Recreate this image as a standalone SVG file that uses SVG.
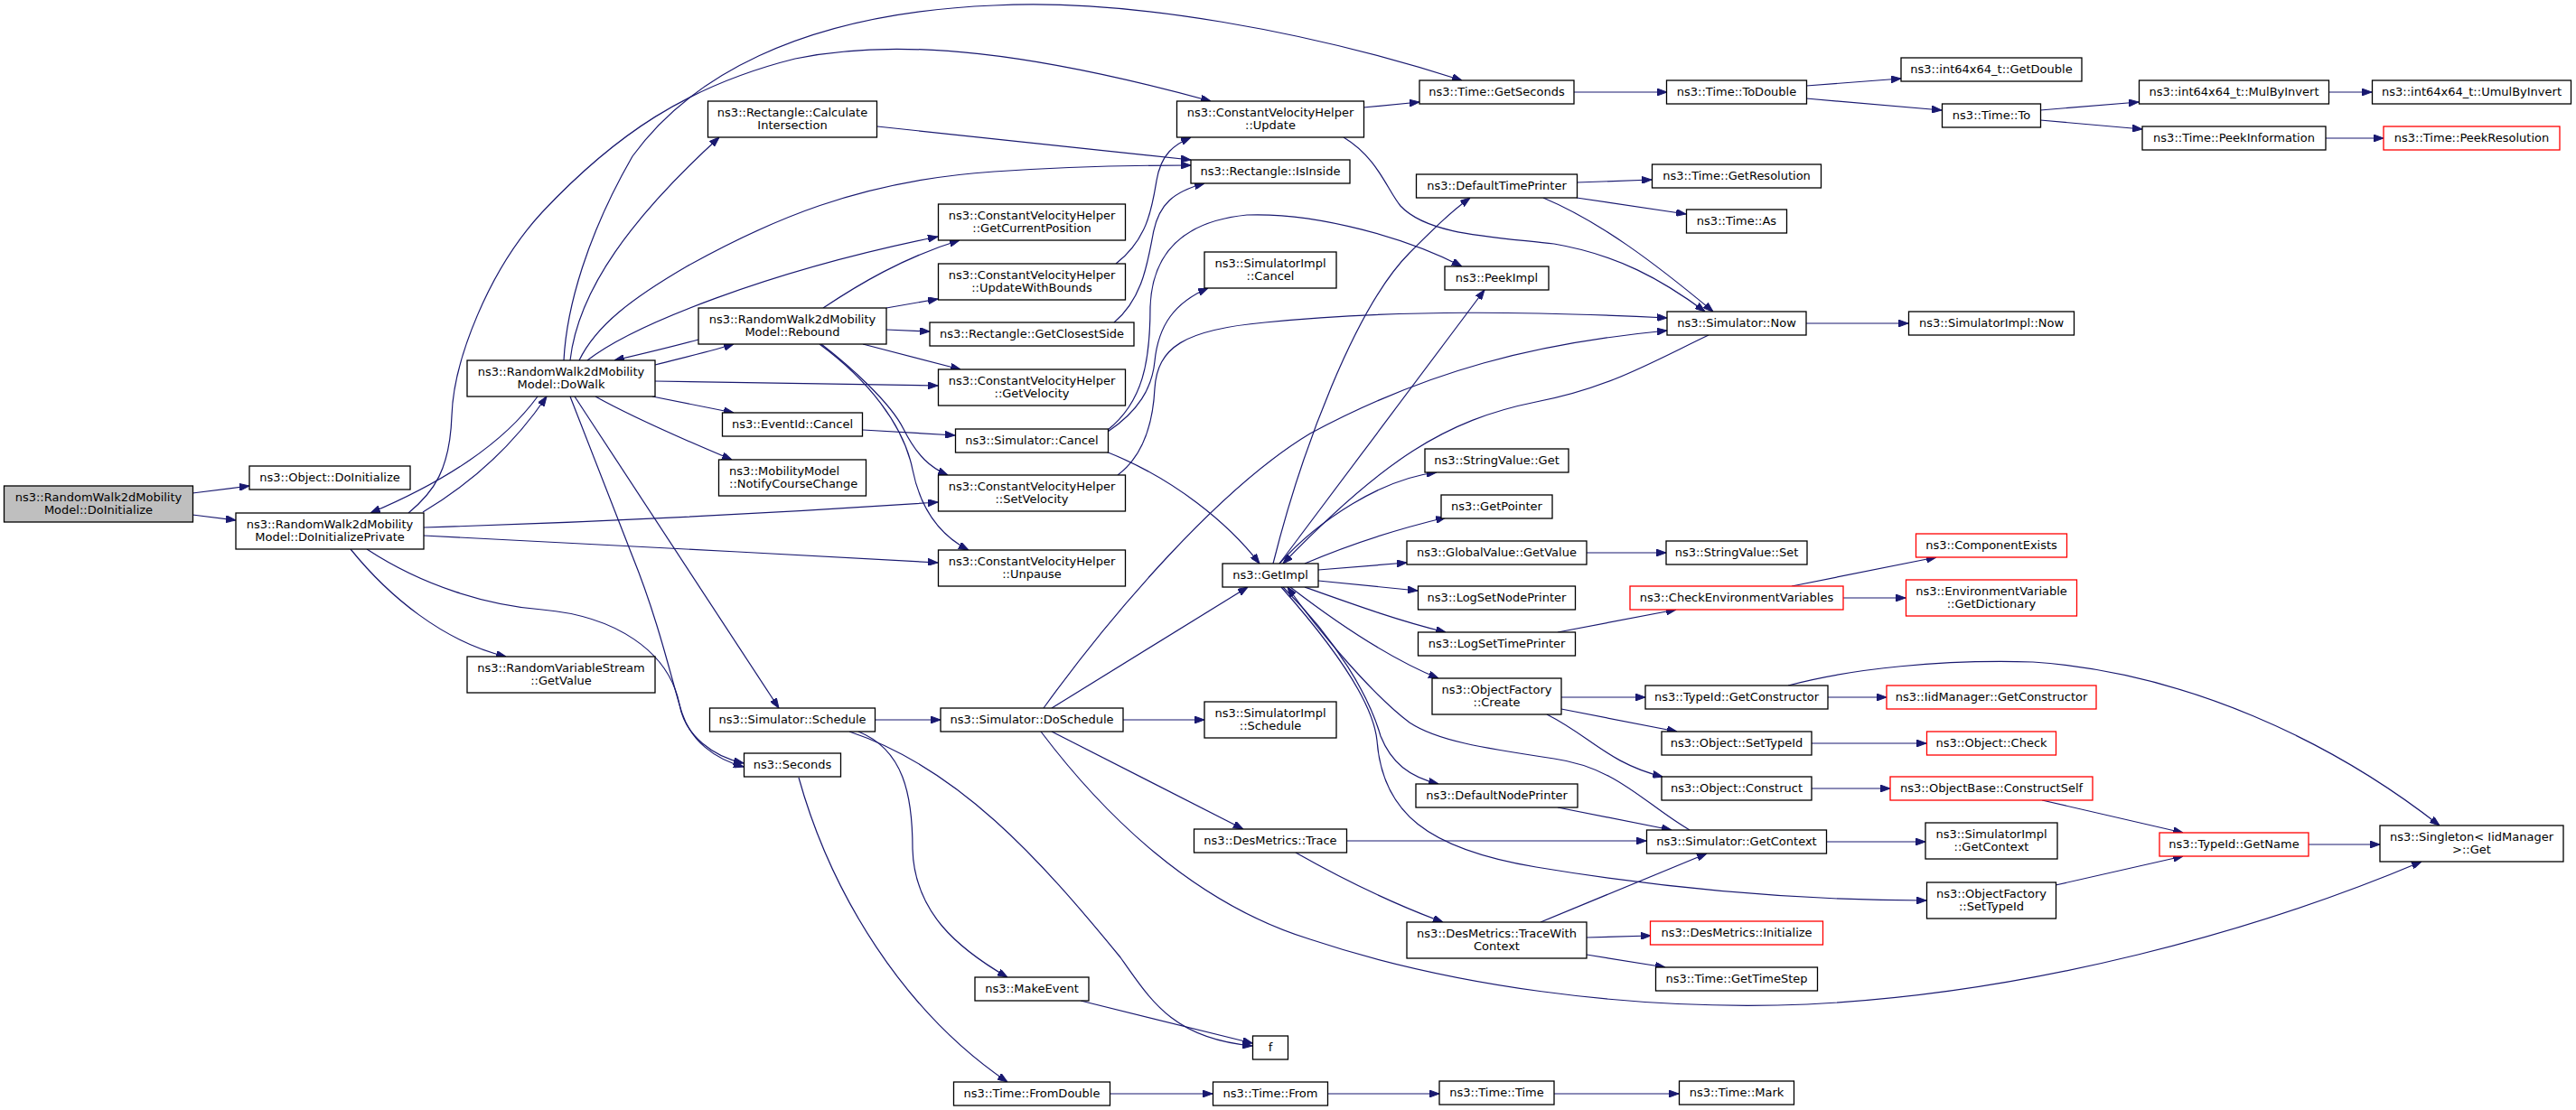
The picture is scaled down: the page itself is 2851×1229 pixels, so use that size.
<svg xmlns="http://www.w3.org/2000/svg" width="2851" height="1229" viewBox="0 0 2851 1229">
<style>
.n rect{fill:#fff;stroke:#000;stroke-width:1.3}
.r rect{stroke:#f00}
.g rect{fill:#bfbfbf}
text{font-family:"DejaVu Sans","Liberation Sans",sans-serif;font-size:13px;text-anchor:middle;fill:#000}
.l text{text-anchor:start}
#edges path{fill:none;stroke:#191970;stroke-width:1.2;marker-end:url(#a)}
</style>
<defs>
<marker id="a" markerWidth="11" markerHeight="8" refX="11" refY="4" orient="auto" markerUnits="userSpaceOnUse"><path d="M0,0 L11,4 L0,8 z" fill="#191970" stroke="#191970" stroke-width="1"/></marker>
</defs>
<rect width="2851" height="1229" fill="#fff"/>
<g id="edges">
<path d="M213,546 L276,538"/>
<path d="M213,570 L261,576"/>
<path d="M468,567 C505,545 560,505 605,439"/>
<path d="M595,439 C560,487 500,530 410,568"/>
<path d="M388,608 C430,660 490,710 560,727"/>
<path d="M406,608 C470,650 540,670 600,675 C680,682 740,720 752,780 C758,815 790,838 823,845"/>
<path d="M631,439 L700,616 C730,690 745,760 755,790 C765,820 790,840 823,849"/>
<path d="M636,439 L862,784"/>
<path d="M659,439 C700,462 760,488 810,509"/>
<path d="M722,439 L812,457"/>
<path d="M725,422 L1038,427"/>
<path d="M725,404 C760,395 790,388 812,381"/>
<path d="M773,376 C740,385 710,392 680,399"/>
<path d="M631,399 C640,320 700,240 796,152"/>
<path d="M624,399 C627,340 650,260 700,173 C760,90 880,15 1100,6 C1250,-2 1450,35 1618,89"/>
<path d="M641,399 C660,360 700,330 760,295 C850,245 950,200 1100,190 C1200,183 1280,183 1318,183"/>
<path d="M650,399 C700,360 850,300 1038,262"/>
<path d="M452,568 C480,545 498,520 500,460 C502,400 540,300 600,235 C680,150 760,95 880,65 C1000,40 1150,60 1340,112"/>
<path d="M469,584 C600,580 800,572 1038,556"/>
<path d="M469,593 C650,603 850,612 1038,623"/>
<path d="M911,341 C950,315 1000,285 1062,266"/>
<path d="M981,341 L1038,331"/>
<path d="M981,365 L1029,367"/>
<path d="M955,381 L1063,409"/>
<path d="M909,381 C940,405 985,445 1000,475 C1015,505 1030,518 1049,526"/>
<path d="M907,381 C960,420 1000,470 1010,520 C1020,570 1045,595 1072,609"/>
<path d="M971,140 L1318,177"/>
<path d="M1235,292 C1270,265 1275,230 1280,200 C1285,170 1300,160 1318,152"/>
<path d="M1233,357 C1265,330 1270,290 1276,260 C1282,225 1300,212 1333,203"/>
<path d="M1226,478 C1260,455 1275,430 1278,400 C1282,360 1300,335 1337,319"/>
<path d="M1226,476 C1265,445 1273,400 1273,340 C1275,280 1310,245 1380,238 C1460,235 1560,265 1618,295"/>
<path d="M1224,500 C1300,530 1360,580 1394,624"/>
<path d="M1237,526 C1265,505 1276,470 1278,430 C1281,385 1310,365 1400,357 C1550,342 1700,345 1845,352"/>
<path d="M955,476 L1057,482"/>
<path d="M1509,119 L1571,113"/>
<path d="M1487,152 C1525,175 1535,210 1550,228 C1580,260 1650,262 1720,270 C1790,282 1840,310 1887,345"/>
<path d="M1742,102 L1845,102"/>
<path d="M1999,95 L2104,87"/>
<path d="M1999,109 L2149,122"/>
<path d="M2258,122 L2367,113"/>
<path d="M2258,133 L2371,143"/>
<path d="M2577,102 L2625,102"/>
<path d="M2574,153 L2638,153"/>
<path d="M1745,202 L1828,199"/>
<path d="M1745,219 L1866,237"/>
<path d="M1708,219 C1770,245 1830,290 1896,345"/>
<path d="M1999,358 L2112,358"/>
<path d="M1891,371 C1830,400 1780,430 1700,445 C1600,465 1530,510 1420,624"/>
<path d="M1409,624 C1440,500 1500,340 1560,280 C1585,255 1605,235 1627,219"/>
<path d="M1416,624 L1643,321"/>
<path d="M1155,784 C1230,680 1350,540 1450,480 C1580,410 1700,380 1845,366"/>
<path d="M1164,784 L1381,650"/>
<path d="M1243,797 L1333,797"/>
<path d="M1164,810 L1376,918"/>
<path d="M1152,810 C1220,900 1320,1000 1450,1040 C1600,1090 1800,1120 2000,1112 C2250,1100 2500,1030 2680,954"/>
<path d="M968,797 L1041,797"/>
<path d="M950,810 C1000,830 1010,880 1010,940 C1012,1010 1060,1050 1115,1082"/>
<path d="M940,810 C1060,850 1150,950 1240,1060 C1275,1110 1300,1150 1386,1158"/>
<path d="M1196,1108 L1386,1155"/>
<path d="M884,861 C920,990 1000,1120 1115,1198"/>
<path d="M1228,1211 L1342,1211"/>
<path d="M1469,1211 L1593,1211"/>
<path d="M1720,1211 L1858,1211"/>
<path d="M1490,931 L1822,931"/>
<path d="M1434,944 C1480,970 1540,1000 1597,1021"/>
<path d="M1705,1021 L1889,945"/>
<path d="M1756,1038 L1827,1036"/>
<path d="M1756,1057 L1843,1071"/>
<path d="M1416,624 C1460,575 1530,530 1590,523"/>
<path d="M1444,624 C1500,600 1550,585 1600,573"/>
<path d="M1459,631 L1557,623"/>
<path d="M1459,643 L1569,654"/>
<path d="M1444,650 C1500,670 1550,688 1600,700"/>
<path d="M1428,650 C1480,690 1540,730 1592,751"/>
<path d="M1420,650 C1480,710 1515,770 1528,815 C1540,845 1560,860 1592,868"/>
<path d="M1418,650 C1480,720 1520,780 1524,820 C1530,900 1580,940 1700,960 C1850,985 2000,997 2132,997"/>
<path d="M1870,919 C1820,890 1790,850 1720,840 C1640,828 1590,820 1560,800 C1520,770 1460,700 1425,650"/>
<path d="M1724,894 L1850,919"/>
<path d="M1728,772 L1821,772"/>
<path d="M1728,785 L1856,810"/>
<path d="M1712,791 C1760,815 1780,845 1840,860"/>
<path d="M2023,772 L2088,772"/>
<path d="M1979,759 C2050,740 2150,730 2250,733 C2420,745 2580,820 2700,914"/>
<path d="M2005,823 L2132,823"/>
<path d="M2005,873 L2092,873"/>
<path d="M2260,886 L2416,922"/>
<path d="M2275,980 L2416,948"/>
<path d="M2555,935 L2634,935"/>
<path d="M2021,932 L2131,932"/>
<path d="M1756,612 L1844,612"/>
<path d="M1724,700 L1855,675"/>
<path d="M1983,649 L2143,617"/>
<path d="M2040,662 L2109,662"/>
</g>
<g id="n0" class="n g"><rect x="4.5" y="538" width="209" height="40"/><text x="109" y="555">ns3::RandomWalk2dMobility</text><text x="109" y="569">Model::DoInitialize</text></g>
<g id="n1" class="n"><rect x="276" y="516" width="178" height="26"/><text x="365" y="533">ns3::Object::DoInitialize</text></g>
<g id="n2" class="n"><rect x="261" y="568" width="208" height="40"/><text x="365" y="585">ns3::RandomWalk2dMobility</text><text x="365" y="599">Model::DoInitializePrivate</text></g>
<g id="n3" class="n"><rect x="517" y="399" width="208" height="40"/><text x="621" y="416">ns3::RandomWalk2dMobility</text><text x="621" y="430">Model::DoWalk</text></g>
<g id="n4" class="n"><rect x="517" y="727" width="208" height="40"/><text x="621" y="744">ns3::RandomVariableStream</text><text x="621" y="758">::GetValue</text></g>
<g id="n5" class="n"><rect x="783.5" y="112" width="187" height="40"/><text x="877" y="129">ns3::Rectangle::Calculate</text><text x="877" y="143">Intersection</text></g>
<g id="n6" class="n"><rect x="773" y="341" width="208" height="40"/><text x="877" y="358">ns3::RandomWalk2dMobility</text><text x="877" y="372">Model::Rebound</text></g>
<g id="n7" class="n"><rect x="799.5" y="457" width="155" height="26"/><text x="877" y="474">ns3::EventId::Cancel</text></g>
<g id="n8" class="n l"><rect x="795.5" y="509" width="163" height="40"/><text x="807" y="526">ns3::MobilityModel</text><text x="807" y="540">::NotifyCourseChange</text></g>
<g id="n9" class="n"><rect x="823.5" y="834" width="107" height="26"/><text x="877" y="851">ns3::Seconds</text></g>
<g id="n10" class="n"><rect x="785.5" y="784" width="183" height="26"/><text x="877" y="801">ns3::Simulator::Schedule</text></g>
<g id="n11" class="n"><rect x="1038.5" y="226" width="207" height="40"/><text x="1142" y="243">ns3::ConstantVelocityHelper</text><text x="1142" y="257">::GetCurrentPosition</text></g>
<g id="n12" class="n"><rect x="1038.5" y="292" width="207" height="40"/><text x="1142" y="309">ns3::ConstantVelocityHelper</text><text x="1142" y="323">::UpdateWithBounds</text></g>
<g id="n13" class="n"><rect x="1029" y="357" width="226" height="26"/><text x="1142" y="374">ns3::Rectangle::GetClosestSide</text></g>
<g id="n14" class="n"><rect x="1038.5" y="409" width="207" height="40"/><text x="1142" y="426">ns3::ConstantVelocityHelper</text><text x="1142" y="440">::GetVelocity</text></g>
<g id="n15" class="n"><rect x="1057.5" y="475" width="169" height="26"/><text x="1142" y="492">ns3::Simulator::Cancel</text></g>
<g id="n16" class="n"><rect x="1038.5" y="526" width="207" height="40"/><text x="1142" y="543">ns3::ConstantVelocityHelper</text><text x="1142" y="557">::SetVelocity</text></g>
<g id="n17" class="n"><rect x="1038.5" y="609" width="207" height="40"/><text x="1142" y="626">ns3::ConstantVelocityHelper</text><text x="1142" y="640">::Unpause</text></g>
<g id="n18" class="n"><rect x="1041" y="784" width="202" height="26"/><text x="1142" y="801">ns3::Simulator::DoSchedule</text></g>
<g id="n19" class="n"><rect x="1079" y="1082" width="126" height="26"/><text x="1142" y="1099">ns3::MakeEvent</text></g>
<g id="n20" class="n"><rect x="1055.5" y="1198" width="173" height="26"/><text x="1142" y="1215">ns3::Time::FromDouble</text></g>
<g id="n21" class="n"><rect x="1302.5" y="112" width="207" height="40"/><text x="1406" y="129">ns3::ConstantVelocityHelper</text><text x="1406" y="143">::Update</text></g>
<g id="n22" class="n"><rect x="1318" y="177" width="176" height="26"/><text x="1406" y="194">ns3::Rectangle::IsInside</text></g>
<g id="n23" class="n"><rect x="1333" y="279" width="146" height="40"/><text x="1406" y="296">ns3::SimulatorImpl</text><text x="1406" y="310">::Cancel</text></g>
<g id="n24" class="n"><rect x="1353" y="624" width="106" height="26"/><text x="1406" y="641">ns3::GetImpl</text></g>
<g id="n25" class="n"><rect x="1333" y="777" width="146" height="40"/><text x="1406" y="794">ns3::SimulatorImpl</text><text x="1406" y="808">::Schedule</text></g>
<g id="n26" class="n"><rect x="1321.5" y="918" width="169" height="26"/><text x="1406" y="935">ns3::DesMetrics::Trace</text></g>
<g id="n27" class="n"><rect x="1386.5" y="1147" width="39" height="26"/><text x="1406" y="1164">f</text></g>
<g id="n28" class="n"><rect x="1342.5" y="1198" width="127" height="26"/><text x="1406" y="1215">ns3::Time::From</text></g>
<g id="n29" class="n"><rect x="1571" y="89" width="171" height="26"/><text x="1656.5" y="106">ns3::Time::GetSeconds</text></g>
<g id="n30" class="n"><rect x="1567.5" y="193" width="178" height="26"/><text x="1656.5" y="210">ns3::DefaultTimePrinter</text></g>
<g id="n31" class="n"><rect x="1599" y="295" width="115" height="26"/><text x="1656.5" y="312">ns3::PeekImpl</text></g>
<g id="n32" class="n"><rect x="1577" y="497" width="159" height="26"/><text x="1656.5" y="514">ns3::StringValue::Get</text></g>
<g id="n33" class="n"><rect x="1595" y="548" width="123" height="26"/><text x="1656.5" y="565">ns3::GetPointer</text></g>
<g id="n34" class="n"><rect x="1557" y="599" width="199" height="26"/><text x="1656.5" y="616">ns3::GlobalValue::GetValue</text></g>
<g id="n35" class="n"><rect x="1569.5" y="649" width="174" height="26"/><text x="1656.5" y="666">ns3::LogSetNodePrinter</text></g>
<g id="n36" class="n"><rect x="1569.5" y="700" width="174" height="26"/><text x="1656.5" y="717">ns3::LogSetTimePrinter</text></g>
<g id="n37" class="n"><rect x="1585" y="751" width="143" height="40"/><text x="1656.5" y="768">ns3::ObjectFactory</text><text x="1656.5" y="782">::Create</text></g>
<g id="n38" class="n"><rect x="1567" y="868" width="179" height="26"/><text x="1656.5" y="885">ns3::DefaultNodePrinter</text></g>
<g id="n39" class="n"><rect x="1557" y="1021" width="199" height="40"/><text x="1656.5" y="1038">ns3::DesMetrics::TraceWith</text><text x="1656.5" y="1052">Context</text></g>
<g id="n40" class="n"><rect x="1593" y="1197" width="127" height="26"/><text x="1656.5" y="1214">ns3::Time::Time</text></g>
<g id="n41" class="n"><rect x="1844.5" y="89" width="155" height="26"/><text x="1922" y="106">ns3::Time::ToDouble</text></g>
<g id="n42" class="n"><rect x="1828.5" y="182" width="187" height="26"/><text x="1922" y="199">ns3::Time::GetResolution</text></g>
<g id="n43" class="n"><rect x="1866.5" y="232" width="111" height="26"/><text x="1922" y="249">ns3::Time::As</text></g>
<g id="n44" class="n"><rect x="1845" y="345" width="154" height="26"/><text x="1922" y="362">ns3::Simulator::Now</text></g>
<g id="n45" class="n"><rect x="1844" y="599" width="156" height="26"/><text x="1922" y="616">ns3::StringValue::Set</text></g>
<g id="n46" class="n r"><rect x="1804" y="649" width="236" height="26"/><text x="1922" y="666">ns3::CheckEnvironmentVariables</text></g>
<g id="n47" class="n"><rect x="1821" y="759" width="202" height="26"/><text x="1922" y="776">ns3::TypeId::GetConstructor</text></g>
<g id="n48" class="n"><rect x="1839" y="810" width="166" height="26"/><text x="1922" y="827">ns3::Object::SetTypeId</text></g>
<g id="n49" class="n"><rect x="1839" y="860" width="166" height="26"/><text x="1922" y="877">ns3::Object::Construct</text></g>
<g id="n50" class="n"><rect x="1822.5" y="919" width="199" height="26"/><text x="1922" y="936">ns3::Simulator::GetContext</text></g>
<g id="n51" class="n r"><rect x="1826.5" y="1020" width="191" height="26"/><text x="1922" y="1037">ns3::DesMetrics::Initialize</text></g>
<g id="n52" class="n"><rect x="1832.5" y="1071" width="179" height="26"/><text x="1922" y="1088">ns3::Time::GetTimeStep</text></g>
<g id="n53" class="n"><rect x="1858.5" y="1197" width="127" height="26"/><text x="1922" y="1214">ns3::Time::Mark</text></g>
<g id="n54" class="n"><rect x="2104" y="64" width="200" height="26"/><text x="2204" y="81">ns3::int64x64_t::GetDouble</text></g>
<g id="n55" class="n"><rect x="2149.5" y="115" width="109" height="26"/><text x="2204" y="132">ns3::Time::To</text></g>
<g id="n56" class="n"><rect x="2112.5" y="345" width="183" height="26"/><text x="2204" y="362">ns3::SimulatorImpl::Now</text></g>
<g id="n57" class="n r"><rect x="2120.5" y="591" width="167" height="26"/><text x="2204" y="608">ns3::ComponentExists</text></g>
<g id="n58" class="n r"><rect x="2109.5" y="642" width="189" height="40"/><text x="2204" y="659">ns3::EnvironmentVariable</text><text x="2204" y="673">::GetDictionary</text></g>
<g id="n59" class="n r"><rect x="2088" y="759" width="232" height="26"/><text x="2204" y="776">ns3::IidManager::GetConstructor</text></g>
<g id="n60" class="n r"><rect x="2132.5" y="810" width="143" height="26"/><text x="2204" y="827">ns3::Object::Check</text></g>
<g id="n61" class="n r"><rect x="2092" y="860" width="224" height="26"/><text x="2204" y="877">ns3::ObjectBase::ConstructSelf</text></g>
<g id="n62" class="n"><rect x="2131" y="911" width="146" height="40"/><text x="2204" y="928">ns3::SimulatorImpl</text><text x="2204" y="942">::GetContext</text></g>
<g id="n63" class="n"><rect x="2132.5" y="977" width="143" height="40"/><text x="2204" y="994">ns3::ObjectFactory</text><text x="2204" y="1008">::SetTypeId</text></g>
<g id="n64" class="n"><rect x="2367.5" y="89" width="210" height="26"/><text x="2472.5" y="106">ns3::int64x64_t::MulByInvert</text></g>
<g id="n65" class="n"><rect x="2371" y="140" width="203" height="26"/><text x="2472.5" y="157">ns3::Time::PeekInformation</text></g>
<g id="n66" class="n r"><rect x="2390" y="922" width="165" height="26"/><text x="2472.5" y="939">ns3::TypeId::GetName</text></g>
<g id="n67" class="n"><rect x="2625.5" y="89" width="220" height="26"/><text x="2735.5" y="106">ns3::int64x64_t::UmulByInvert</text></g>
<g id="n68" class="n r"><rect x="2638" y="140" width="195" height="26"/><text x="2735.5" y="157">ns3::Time::PeekResolution</text></g>
<g id="n69" class="n"><rect x="2634" y="914" width="203" height="40"/><text x="2735.5" y="931">ns3::Singleton&lt; IidManager</text><text x="2735.5" y="945">&gt;::Get</text></g>
</svg>
